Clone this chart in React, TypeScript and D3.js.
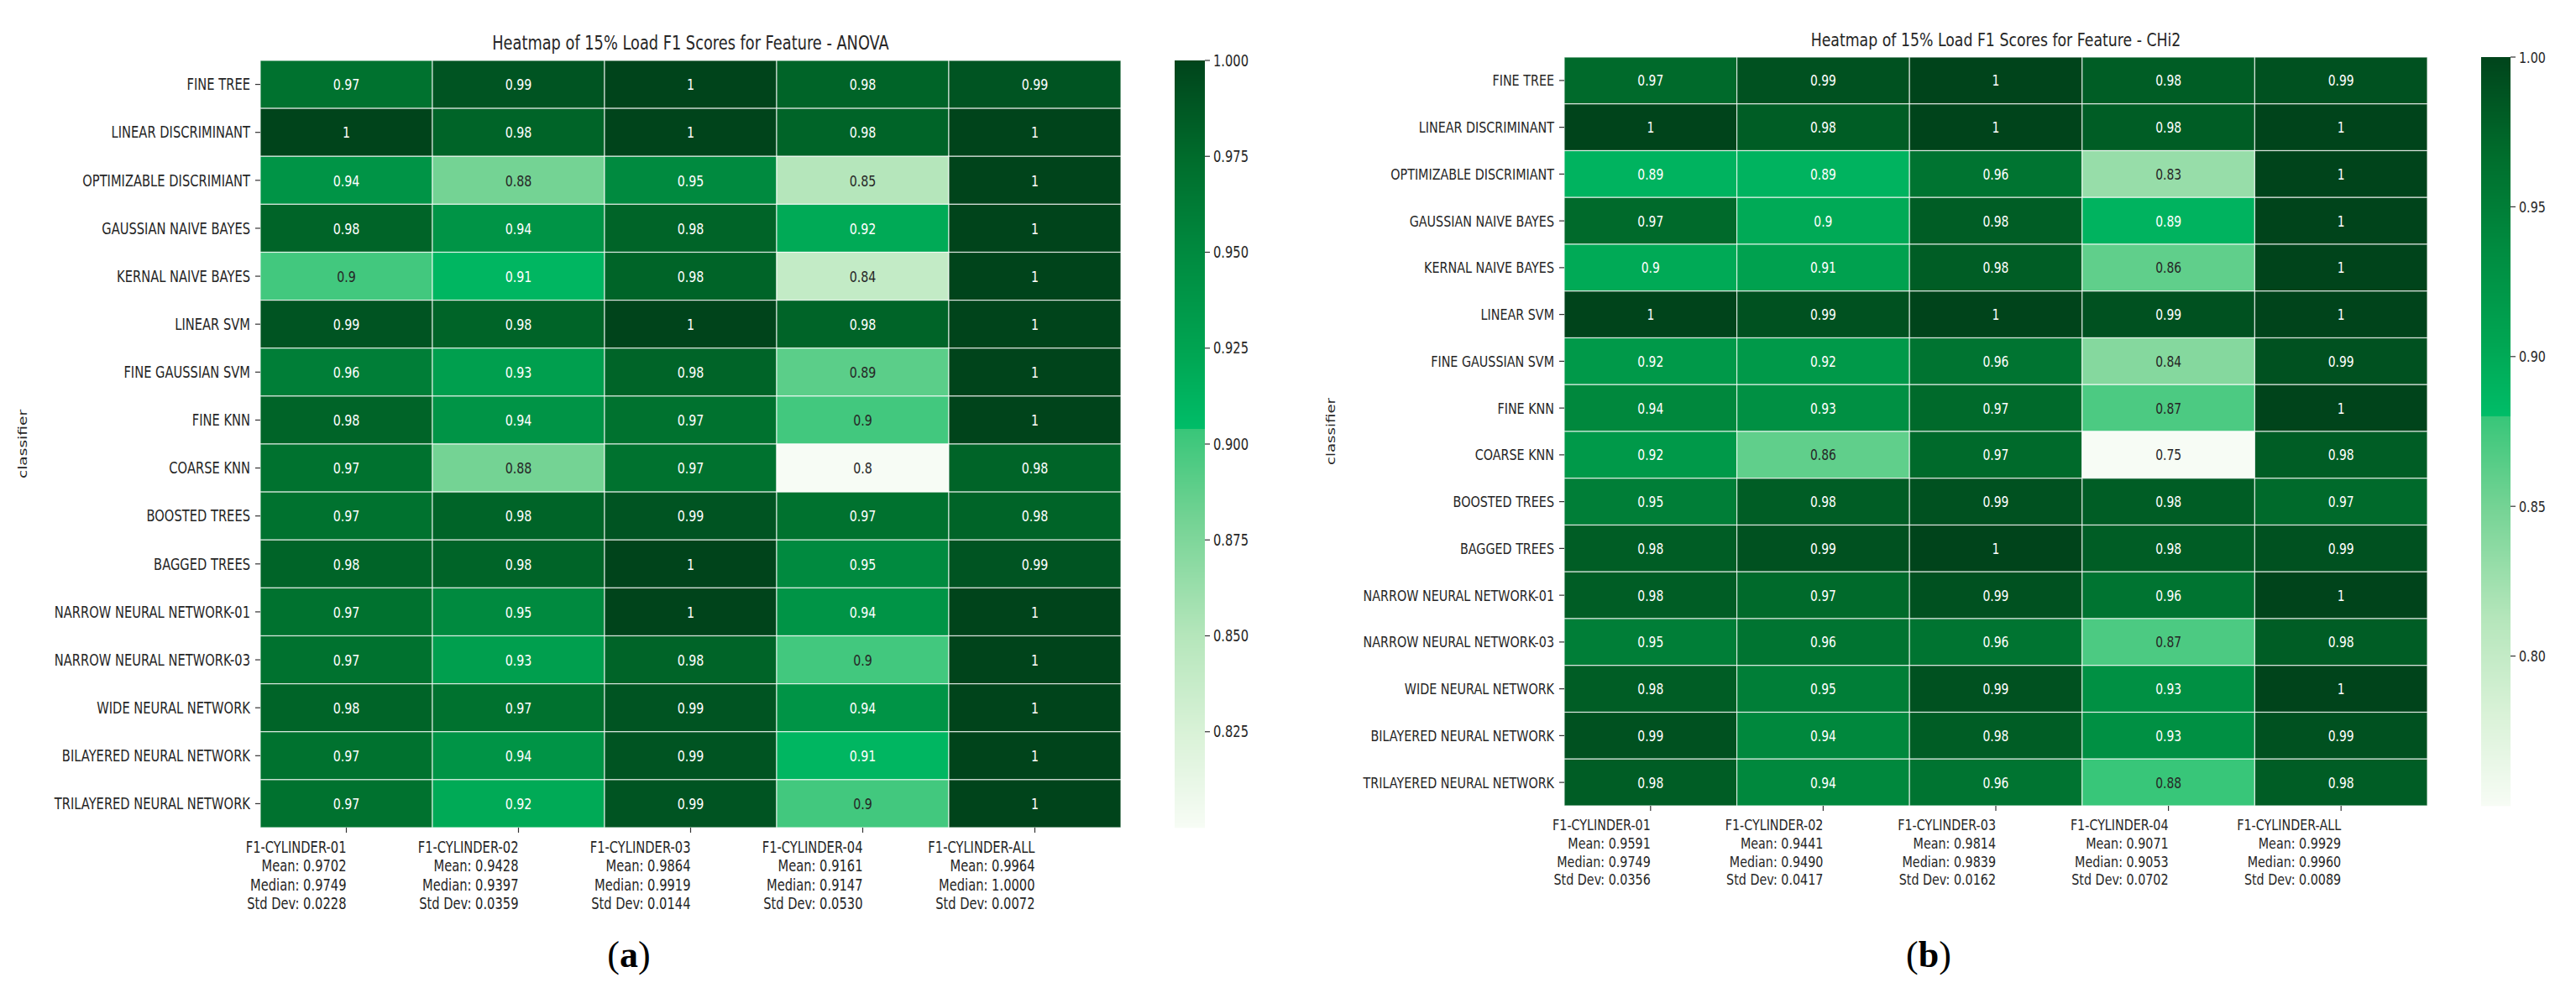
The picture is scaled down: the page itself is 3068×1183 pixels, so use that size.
import React, { useEffect, useRef } from 'react';
import * as d3 from 'd3';

// classifiers (rows) and feature-subset columns
const classifiers = [
  'FINE TREE', 'LINEAR DISCRIMINANT', 'OPTIMIZABLE DISCRIMIANT', 'GAUSSIAN NAIVE BAYES',
  'KERNAL NAIVE BAYES', 'LINEAR SVM', 'FINE GAUSSIAN SVM', 'FINE KNN', 'COARSE KNN',
  'BOOSTED TREES', 'BAGGED TREES', 'NARROW NEURAL NETWORK-01', 'NARROW NEURAL NETWORK-03',
  'WIDE NEURAL NETWORK', 'BILAYERED NEURAL NETWORK', 'TRILAYERED NEURAL NETWORK',
];
const cylinders = ['F1-CYLINDER-01', 'F1-CYLINDER-02', 'F1-CYLINDER-03', 'F1-CYLINDER-04', 'F1-CYLINDER-ALL'];

const anovaScores = [
  [0.97, 0.99, 1, 0.98, 0.99],
  [1, 0.98, 1, 0.98, 1],
  [0.94, 0.88, 0.95, 0.85, 1],
  [0.98, 0.94, 0.98, 0.92, 1],
  [0.9, 0.91, 0.98, 0.84, 1],
  [0.99, 0.98, 1, 0.98, 1],
  [0.96, 0.93, 0.98, 0.89, 1],
  [0.98, 0.94, 0.97, 0.9, 1],
  [0.97, 0.88, 0.97, 0.8, 0.98],
  [0.97, 0.98, 0.99, 0.97, 0.98],
  [0.98, 0.98, 1, 0.95, 0.99],
  [0.97, 0.95, 1, 0.94, 1],
  [0.97, 0.93, 0.98, 0.9, 1],
  [0.98, 0.97, 0.99, 0.94, 1],
  [0.97, 0.94, 0.99, 0.91, 1],
  [0.97, 0.92, 0.99, 0.9, 1],
];
const anovaMean = [0.9702, 0.9428, 0.9864, 0.9161, 0.9964];
const anovaMedian = [0.9749, 0.9397, 0.9919, 0.9147, 1.0];
const anovaStd = [0.0228, 0.0359, 0.0144, 0.053, 0.0072];
const anovaTicks = [1.0, 0.975, 0.95, 0.925, 0.9, 0.875, 0.85, 0.825];

const chi2Scores = [
  [0.97, 0.99, 1, 0.98, 0.99],
  [1, 0.98, 1, 0.98, 1],
  [0.89, 0.89, 0.96, 0.83, 1],
  [0.97, 0.9, 0.98, 0.89, 1],
  [0.9, 0.91, 0.98, 0.86, 1],
  [1, 0.99, 1, 0.99, 1],
  [0.92, 0.92, 0.96, 0.84, 0.99],
  [0.94, 0.93, 0.97, 0.87, 1],
  [0.92, 0.86, 0.97, 0.75, 0.98],
  [0.95, 0.98, 0.99, 0.98, 0.97],
  [0.98, 0.99, 1, 0.98, 0.99],
  [0.98, 0.97, 0.99, 0.96, 1],
  [0.95, 0.96, 0.96, 0.87, 0.98],
  [0.98, 0.95, 0.99, 0.93, 1],
  [0.99, 0.94, 0.98, 0.93, 0.99],
  [0.98, 0.94, 0.96, 0.88, 0.98],
];
const chi2Mean = [0.9591, 0.9441, 0.9814, 0.9071, 0.9929];
const chi2Median = [0.9749, 0.949, 0.9839, 0.9053, 0.996];
const chi2Std = [0.0356, 0.0417, 0.0162, 0.0702, 0.0089];
const chi2Ticks = [1.0, 0.95, 0.9, 0.85, 0.8];

// custom green map (two joined segments, bright kink near the middle)
const cmapStops = [0, 0.12, 0.25, 0.4, 0.52, 0.5201, 0.62, 0.75, 0.87, 1];
const cmapColors = ['#f7fcf5', '#daf2d8', '#b5e6bb', '#74d394', '#38c679', '#00bd68', '#00a552', '#008a3f', '#006d2c', '#00441b'];

const FONT = 'DejaVu Sans';
const SQX = 0.79; // the figure is horizontally squeezed

const panels = [
  {
    title: 'Heatmap of 15% Load F1 Scores for Feature - ANOVA', tag: '(a)',
    scores: anovaScores, mean: anovaMean, median: anovaMedian, std: anovaStd,
    ticks: anovaTicks, tickFmt: '.3f',
    x0: 310, x1: 1335, y0: 72, y1: 986, cbx: 1399, cbw: 36, ylabX: 32, k: 1, tagX: 749,
  },
  {
    title: 'Heatmap of 15% Load F1 Scores for Feature - CHi2', tag: '(b)',
    scores: chi2Scores, mean: chi2Mean, median: chi2Median, std: chi2Std,
    ticks: chi2Ticks, tickFmt: '.2f',
    x0: 1863, x1: 2891, y0: 68, y1: 960, cbx: 2955, cbw: 35, ylabX: 1590, k: 0.975, tagX: 2297,
  },
];

function luminance(c: string) {
  const rgb = d3.rgb(c);
  const f = (v: number) => {
    const s = v / 255;
    return s <= 0.03928 ? s / 12.92 : Math.pow((s + 0.055) / 1.055, 2.4);
  };
  return 0.2126 * f(rgb.r) + 0.7152 * f(rgb.g) + 0.0722 * f(rgb.b);
}

const App: React.FC = () => {
  const svgRef = useRef<SVGSVGElement>(null);

  useEffect(() => {
    if (!svgRef.current) return;
    const svg = d3.select(svgRef.current);
    svg.selectAll('*').remove();

    const cmap = d3.scaleLinear<string>().domain(cmapStops).range(cmapColors).interpolate(d3.interpolateRgb).clamp(true);

    const label = (g: any, x: number, y: number, txt: string, size: number, anchor = 'middle', fill = '#262626') =>
      g.append('text')
        .attr('transform', `translate(${x},${y}) scale(${SQX},1)`)
        .attr('text-anchor', anchor)
        .style('font-family', FONT)
        .style('font-size', `${size}px`)
        .style('fill', fill)
        .text(txt);

    panels.forEach(p => {
      const g = svg.append('g');
      const flat = p.scores.flat();
      const vmin = d3.min(flat) as number;
      const vmax = d3.max(flat) as number;
      const frac = d3.scaleLinear().domain([vmin, vmax]).range([0, 1]);
      const color = (v: number) => cmap(frac(v));

      const x = d3.scaleBand().domain(cylinders).range([p.x0, p.x1]);
      const y = d3.scaleBand().domain(classifiers).range([p.y0, p.y1]);
      const fs = 18.6 * p.k;

      // cells
      classifiers.forEach((row, i) => {
        cylinders.forEach((col, j) => {
          const v = p.scores[i][j];
          const c = color(v);
          g.append('rect')
            .attr('x', x(col)!)
            .attr('y', y(row)!)
            .attr('width', x.bandwidth())
            .attr('height', y.bandwidth())
            .style('fill', c)
            .style('stroke', '#ffffff')
            .style('stroke-opacity', 0.75)
            .style('stroke-width', 1.2);
          label(g, x(col)! + x.bandwidth() / 2, y(row)! + y.bandwidth() / 2 + fs * 0.36, d3.format('.2~g')(v), fs * 0.97, 'middle',
            luminance(c) > 0.408 ? '#262626' : '#ffffff');
        });
      });

      // y ticks
      classifiers.forEach(row => {
        const cy = y(row)! + y.bandwidth() / 2;
        g.append('line').attr('x1', p.x0 - 6).attr('x2', p.x0).attr('y1', cy).attr('y2', cy)
          .style('stroke', '#333').style('stroke-width', 1.2);
        label(g, p.x0 - 12, cy + fs * 0.36, row, fs, 'end');
      });

      // x ticks with stats
      cylinders.forEach((col, j) => {
        const cx = x(col)! + x.bandwidth() / 2;
        g.append('line').attr('x1', cx).attr('x2', cx).attr('y1', p.y1).attr('y2', p.y1 + 6)
          .style('stroke', '#333').style('stroke-width', 1.2);
        const lines = [
          col,
          `Mean: ${p.mean[j].toFixed(4)}`,
          `Median: ${p.median[j].toFixed(4)}`,
          `Std Dev: ${p.std[j].toFixed(4)}`,
        ];
        lines.forEach((t, li) => label(g, cx, p.y1 + 30 * p.k + li * 22.3 * p.k, t, fs, 'end'));
      });

      // axis label
      g.append('text')
        .attr('transform', `translate(${p.ylabX},${(p.y0 + p.y1) / 2}) rotate(-90) scale(1,${SQX})`)
        .attr('text-anchor', 'middle')
        .style('font-family', FONT)
        .style('font-size', `${fs}px`)
        .style('fill', '#262626')
        .text('classifier');

      // title
      label(g, (p.x0 + p.x1) / 2, p.y0 - 13, p.title, 22.5 * p.k);

      // colorbar
      const cb = d3.scaleLinear().domain([vmin, vmax]).range([p.y1, p.y0]);
      const steps = d3.range(p.y0, p.y1, 1);
      g.selectAll(null).data(steps).enter().append('rect')
        .attr('x', p.cbx)
        .attr('y', d => d)
        .attr('width', p.cbw)
        .attr('height', 1.3)
        .style('fill', d => color(cb.invert(d + 0.5)));
      p.ticks.forEach(t => {
        const ty = cb(t);
        g.append('line').attr('x1', p.cbx + p.cbw).attr('x2', p.cbx + p.cbw + 6).attr('y1', ty).attr('y2', ty)
          .style('stroke', '#333').style('stroke-width', 1.2);
        label(g, p.cbx + p.cbw + 10, ty + fs * 0.36, d3.format(p.tickFmt)(t), fs, 'start');
      });

      // panel tag
      g.append('text')
        .attr('x', p.tagX)
        .attr('y', 1152)
        .attr('text-anchor', 'middle')
        .style('font-family', 'Liberation Serif')
        .style('font-size', '44px')
        .style('fill', '#000')
        .html(`(<tspan font-weight="bold">${p.tag.slice(1, 2)}</tspan>)`);
    });
  }, []);

  return (
    <svg
      ref={svgRef}
      width={3068}
      height={1183}
      style={{ position: 'absolute', left: 0, top: 0, background: '#ffffff' }}
    />
  );
};

export default App;
